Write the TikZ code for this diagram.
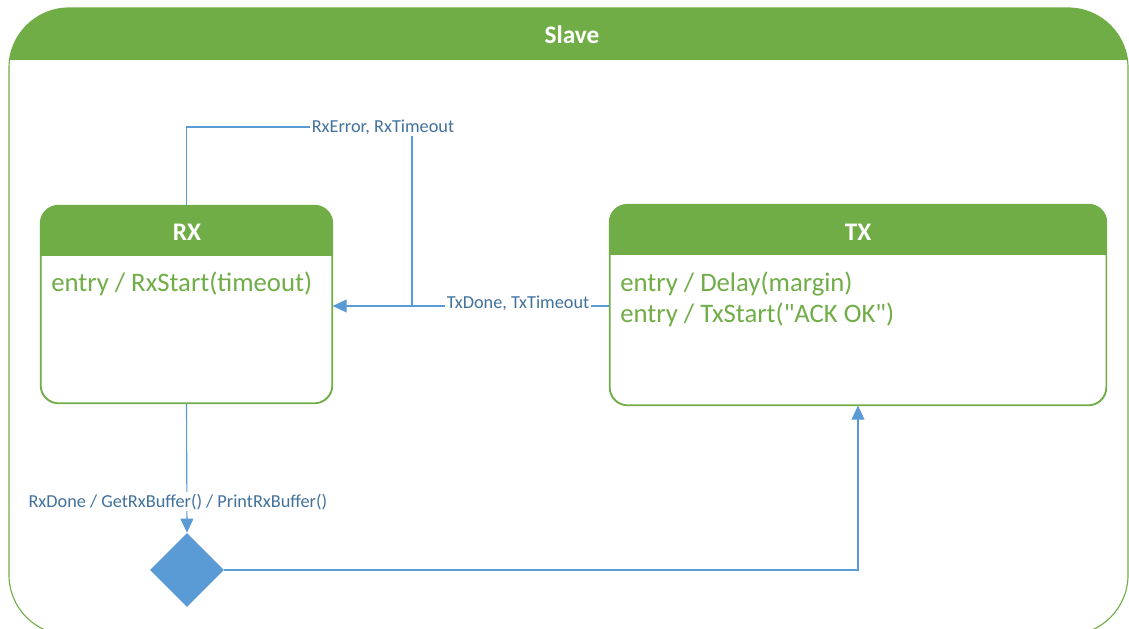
\documentclass[tikz,border=0pt]{standalone}
\usepackage{fontspec}
\setmainfont{Carlito}
\newfontfamily\plainfont{Carlito}
\usepackage{xcolor}
\usepackage{tikz}
\usetikzlibrary{arrows.meta, positioning, shapes.geometric}
\definecolor{StateGreen}{HTML}{70AD47}
\definecolor{FlowBlue}{HTML}{5B9BD5}
\definecolor{LabelBlue}{HTML}{41719C}
\newcommand{\qt}{{\plainfont"}}

\begin{document}
\begin{tikzpicture}[
    x=0.025cm, y=-0.025cm,
    frame/.style={draw=StateGreen, thick},
    state/.style={rectangle, draw=StateGreen, thick, rounded corners=0.45cm, fill=white, inner sep=0pt},
    title/.style={text=white, font=\fontsize{18}{20}\selectfont\bfseries},
    action/.style={text=StateGreen, anchor=north west, align=left, inner sep=0pt, font=\fontsize{19}{22}\selectfont},
    trigger/.style={text=LabelBlue, fill=white, inner sep=1pt, font=\fontsize{13}{16}\selectfont},
    choice/.style={diamond, fill=FlowBlue, minimum width=1.85cm, minimum height=1.85cm, inner sep=0pt},
    arrow/.style={-{Triangle[length=3.5mm, width=3.2mm]}, thick, color=FlowBlue},
    line/.style={thick, color=FlowBlue}
]
\useasboundingbox (0,0) rectangle (1129,629);

% outer composite state
\begin{scope}
  \clip (0,0) rectangle (1129,629);
  \begin{scope}
    \clip[rounded corners=1.5cm] (9,8) rectangle (1128,635);
    \fill[StateGreen] (9,8) rectangle (1128,60);
  \end{scope}
  \draw[frame, rounded corners=1.5cm] (9,8) rectangle (1128,635);
\end{scope}
\node[title] (slave) at (572,35) {Slave};

% states
\node[state, minimum width=7.275cm, minimum height=4.925cm] (rx) at (186.5,304.5) {};
\node[state, minimum width=12.4cm, minimum height=5cm] (tx) at (858,305) {};
\foreach \s in {rx,tx}{
  \begin{scope}
    \clip[rounded corners=0.45cm] (\s.south west) rectangle (\s.north east);
    \fill[StateGreen] (\s.north west) rectangle ([yshift=-1.275cm]\s.north east);
  \end{scope}
  \draw[StateGreen, thick, rounded corners=0.45cm] (\s.south west) rectangle (\s.north east);
}
\node[title] (rxname) at (187,232) {RX};
\node[title] (txname) at (858,232) {TX};
\node[action] (rxdo) at (51,272) {entry / RxStart(timeout)};
\node[action] (txdo) at (620,272) {entry / Delay(margin)\\entry / TxStart(\qt ACK OK\qt)};

\node[choice] (ack) at (187,570) {};

% transitions
\coordinate (merge) at (412,306);
\node[trigger] (errlbl) at (383,127) {RxError, RxTimeout};
\draw[arrow] (tx.west |- merge) -- node[trigger, pos=0.33, yshift=0.06cm] {TxDone, TxTimeout} (rx.east |- merge);
\draw[line] (rx.north) |- (errlbl.west);
\draw[line] (errlbl.south -| merge) -- (merge);
\draw[arrow] (rx.south) -- node[trigger, pos=0.76, xshift=-0.225cm] {RxDone / GetRxBuffer() / PrintRxBuffer()} (ack.north);
\draw[arrow] (ack.east) -| (tx.south);

\end{tikzpicture}
\end{document}
